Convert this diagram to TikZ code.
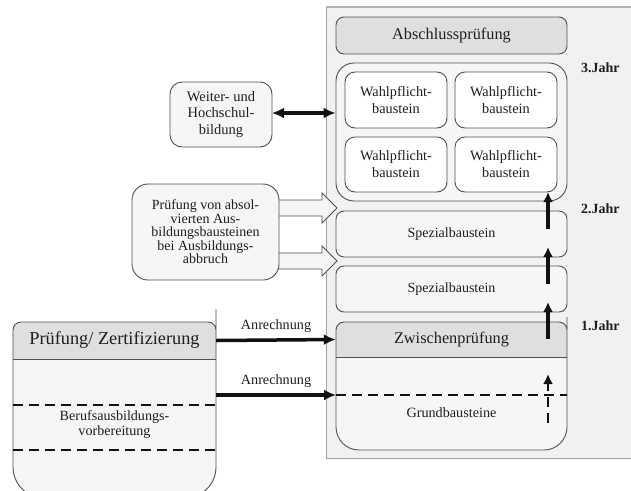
\documentclass[tikz,border=0pt]{standalone}
\usepackage{fontspec}
\setmainfont{Liberation Serif}
\usetikzlibrary{arrows.meta}
\definecolor{panelc}{HTML}{F0F1F0}
\definecolor{boxc}{HTML}{F5F6F5}
\definecolor{headc}{HTML}{DEDFDE}
\definecolor{linec}{HTML}{505050}
\definecolor{txtc}{HTML}{1E1E1E}
\definecolor{arrc}{HTML}{111111}
\newcommand\myfs[2]{\fontsize{#1}{#2}\selectfont}
\begin{document}
\begin{tikzpicture}[x=1pt,y=-1pt,
  rbox/.style={draw=linec, line width=0.9pt, rounded corners=8pt, fill=boxc, text=txtc, align=center, inner sep=0pt},
  wbox/.style={rbox, fill=white, rounded corners=10pt, minimum width=102pt, minimum height=56pt, font=\myfs{14.3}{17}},
  lbl/.style={text=txtc, align=center, inner sep=0pt},
  jahr/.style={text=txtc, anchor=west, inner sep=0pt, font=\myfs{14}{16}\bfseries},
  thickarr/.style={draw=arrc, line width=3.5pt, -{Latex[length=12pt,width=11pt]}},
  uparr/.style={draw=arrc, line width=3.5pt, -{Latex[length=10pt,width=10pt]}},
  dashline/.style={draw=arrc, line width=2.5pt, dash pattern=on 10pt off 6pt},
  hollow/.style={draw=linec, line width=0.9pt, fill=boxc, line join=miter}
]
\useasboundingbox (0,0) rectangle (631,490);
\clip (0,0) rectangle (631,490);

% main panel
\fill[panelc] (326,7) rectangle (645,458);
\draw[draw=gray!75, line width=1pt] (645,458) -- (326,458) -- (326,7);
\draw[draw=gray!60, line width=2.2pt] (326,7) -- (645,7);

% top of right column
\node[rbox, fill=headc, minimum width=231pt, minimum height=37pt, font=\myfs{16.3}{19}] (absch) at (451.5,35.5) {Abschlussprüfung};
\node[rbox, rounded corners=18pt, minimum width=231pt, minimum height=138pt] (grp) at (451.5,132) {};
\node[wbox] (w1) at (396,100) {Wahlpflicht-\\baustein};
\node[wbox] (w2) at (506,100) {Wahlpflicht-\\baustein};
\node[wbox, minimum height=55pt] (w3) at (396,164.5) {Wahlpflicht-\\baustein};
\node[wbox, minimum height=55pt] (w4) at (506,164.5) {Wahlpflicht-\\baustein};

\node[rbox, minimum width=231pt, minimum height=46pt, font=\myfs{14}{16}] (sp1) at (451.5,234) {Spezialbaustein};
\node[rbox, minimum width=231pt, minimum height=46pt, font=\myfs{14}{16}] (sp2) at (451.5,289) {Spezialbaustein};

% Zwischenpruefung / Grundbausteine block
\fill[boxc] (336,340) [rounded corners=23pt] -- (336,450) -- (567,450) -- (567,340) [rounded corners=8pt] -- (567,322) -- (336,322) -- cycle;
\begin{scope}
\clip (336,340) [rounded corners=23pt] -- (336,450) -- (567,450) -- (567,340) [rounded corners=8pt] -- (567,322) -- (336,322) -- cycle;
\fill[headc] (330,316) rectangle (575,357);
\end{scope}
\draw[linec, line width=0.9pt] (336,357) -- (567,357);
\draw[linec, line width=0.9pt] (336,340) [rounded corners=23pt] -- (336,450) -- (567,450) -- (567,340) [rounded corners=8pt] -- (567,322) -- (336,322) -- cycle;
\node[lbl, minimum width=231pt, minimum height=35pt, font=\myfs{16.3}{19}] (zwi) at (451.5,339.5) {Zwischenprüfung};
\node[lbl, font=\myfs{14.2}{16}] (grund) at (451.5,413) {Grundbausteine};
\coordinate (gl) at (336,395);
\coordinate (gr) at (567,395);
\draw[dashline] (gl) -- (gr);

% year labels
\node[jahr] (j3) at (581,68) {3.Jahr};
\node[jahr] (j2) at (581,209) {2.Jahr};
\node[jahr] (j1) at (581,326) {1.Jahr};

% vertical progression arrows
\coordinate (v1s) at (548,339); \coordinate (v1e) at (548,302);
\coordinate (v2s) at (548,284); \coordinate (v2e) at (548,247);
\coordinate (v3s) at (548,229); \coordinate (v3e) at (548,192);
\coordinate (v4s) at (548,423); \coordinate (v4e) at (548,374);
\draw[uparr] (v1s) -- (v1e);
\draw[uparr] (v2s) -- (v2e);
\draw[uparr] (v3s) -- (v3e);
\draw[draw=arrc, line width=2.5pt, dash pattern=on 10pt off 6pt, -{Latex[length=10pt,width=10pt]}] (v4s) -- (v4e);

% Weiter- und Hochschulbildung
\node[rbox, rounded corners=12pt, minimum width=102pt, minimum height=65pt, font=\myfs{14.5}{16.5}] (weiter) at (221,114.5) {Weiter- und\\Hochschul-\\bildung};
\coordinate (wa) at (272,113);
\draw[draw=arrc, line width=3.5pt, {Latex[length=12pt,width=11pt]}-{Latex[length=12pt,width=11pt]}] (wa) -- (wa -| grp.west);

% hollow arrows from Pruefung box
\draw[hollow] (270,200) -- (322,200) -- (322,193) -- (337,208) -- (322,223) -- (322,216) -- (270,216) -- cycle;
\draw[hollow] (270,253) -- (322,253) -- (322,246) -- (337,261) -- (322,276) -- (322,269) -- (270,269) -- cycle;
\node[rbox, rounded corners=16pt, minimum width=147pt, minimum height=96pt, font=\myfs{14}{13.5}] (abbr) at (205.5,232) {Prüfung von absol-\\vierten Aus-\\bildungsbausteinen\\bei Ausbildungs-\\abbruch};

% left bottom box
\fill[boxc] (13,340) [rounded corners=31pt] -- (13,498) -- (216,498) -- (216,340) [rounded corners=8pt] -- (216,322) -- (13,322) -- cycle;
\begin{scope}
\clip (13,340) [rounded corners=31pt] -- (13,498) -- (216,498) -- (216,340) [rounded corners=8pt] -- (216,322) -- (13,322) -- cycle;
\fill[headc] (8,316) rectangle (222,359);
\end{scope}
\draw[linec, line width=0.9pt] (13,359) -- (216,359);
\draw[linec, line width=0.9pt] (13,340) [rounded corners=31pt] -- (13,498) -- (216,498) -- (216,340) [rounded corners=8pt] -- (216,322) -- (13,322) -- cycle;
\node[lbl, minimum width=203pt, minimum height=37pt, font=\myfs{18.3}{21}] (prz) at (114.5,340.5) {Prüfung/ Zertifizierung};
\coordinate (bl1) at (13,405); \coordinate (br1) at (216,405);
\coordinate (bl2) at (13,450); \coordinate (br2) at (216,450);
\draw[dashline] (bl1) -- (br1);
\draw[dashline] (bl2) -- (br2);
\node[lbl, font=\myfs{14.1}{15}] (beruf) at (114.5,425) {Berufsausbildungs-\\vorbereitung};

% Anrechnung arrows
\coordinate (a2s) at (216,395);
\draw[thickarr] (prz.east) -- node[lbl, above=6pt, font=\myfs{14.2}{16}] (an1) {Anrechnung} (zwi.west);
\draw[thickarr] (a2s) -- node[lbl, above=6pt, font=\myfs{14.2}{16}] (an2) {Anrechnung} (gl);
\end{tikzpicture}
\end{document}
